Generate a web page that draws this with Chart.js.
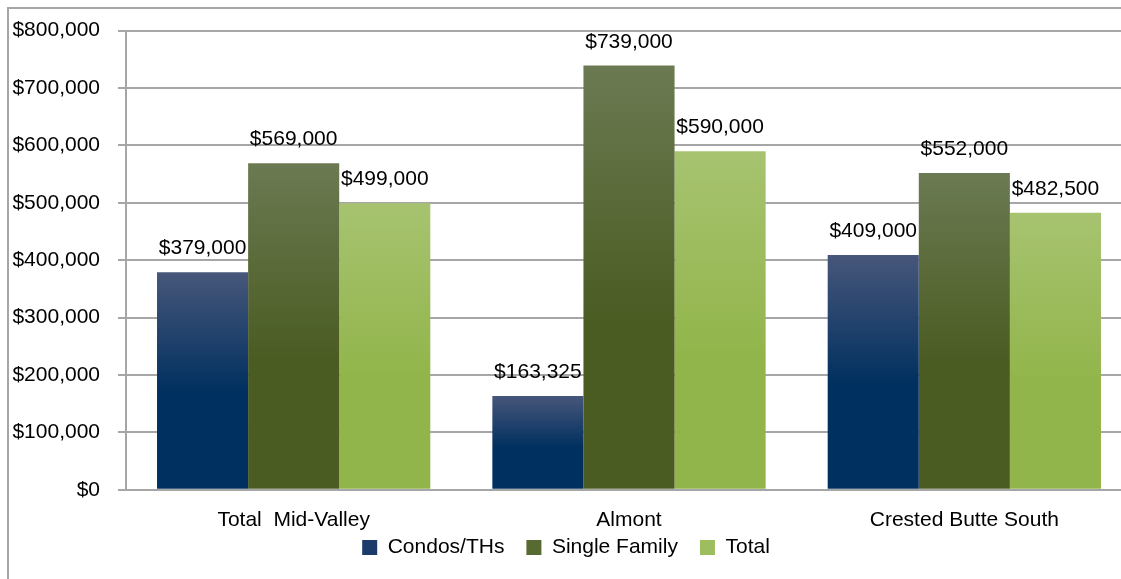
<!DOCTYPE html>
<html>
<head>
<meta charset="utf-8">
<script src="https://cdn.jsdelivr.net/npm/chart.js@4/dist/chart.umd.min.js"></script>
<style>
  html, body { margin: 0; padding: 0; background: #fff; overflow: hidden; }
  #frame {
    position: absolute; left: 7px; top: 7px;
    width: 1200px; height: 700px;
    border-left: 2px solid #a6a6a6; border-top: 2px solid #a6a6a6;
  }
  #wrap { position: absolute; left: 0; top: 0; width: 1132px; height: 579px; }
</style>
</head>
<body>
<div id="frame"></div>
<div id="wrap"><canvas id="medianChart"></canvas></div>
<script>
// median sale prices
const categories = ['Total  Mid-Valley', 'Almont', 'Crested Butte South'];
const condos = [379000, 163325, 409000];
const singleFamily = [569000, 739000, 552000];
const total = [499000, 590000, 482500];
const seriesNames = ['Condos/THs', 'Single Family', 'Total'];

const FONT = "'Liberation Sans', Arial, sans-serif";
const FSIZE = 21;

const money = v => '$' + Number(v).toLocaleString('en-US');

// each bar gets a vertical gradient, lighter at the top
function barGradient(top, bottom, stop)
{
    return (ctx) => {
        const chart = ctx.chart;
        const yScale = chart.scales.y;
        if (!chart.chartArea || !yScale || !ctx.parsed) return bottom;
        const y0 = yScale.getPixelForValue(ctx.parsed.y);
        const y1 = yScale.getPixelForValue(0);
        if (!isFinite(y0) || !isFinite(y1) || y1 - y0 < 1) return bottom;
        const g = chart.ctx.createLinearGradient(0, y0, 0, y1);
        g.addColorStop(0, top);
        g.addColorStop(stop, bottom);
        g.addColorStop(1, bottom);
        return g;
    };
}

// value labels drawn above every bar
const valueLabels = {
    id: 'valueLabels',
    afterDatasetsDraw(chart) {
        const c = chart.ctx;
        c.save();
        c.font = FSIZE + 'px ' + FONT;
        c.fillStyle = '#000';
        c.textAlign = 'center';
        c.textBaseline = 'alphabetic';
        chart.data.datasets.forEach((ds, i) => {
            chart.getDatasetMeta(i).data.forEach((bar, j) => {
                c.fillText(money(ds.data[j]), bar.x, bar.y - 18);
            });
        });
        c.restore();
    }
};

// pull the legend up closer to the category labels
const LEGEND_SHIFT = 28;
const legendNudge = {
    id: 'legendNudge',
    afterLayout(chart) {
        if (chart.legend) {
            chart.legend.top -= LEGEND_SHIFT;
            chart.legend.bottom -= LEGEND_SHIFT;
        }
    }
};

const ctx = document.getElementById('medianChart').getContext('2d');
const medianChart = new Chart(ctx, {
    type: 'bar',
    data: {
        labels: categories,
        datasets: [
            {
                label: seriesNames[0],
                data: condos,
                backgroundColor: barGradient('#47567a', '#00305f', 0.55),
                legendColor: '#1c3a6a'
            },
            {
                label: seriesNames[1],
                data: singleFamily,
                backgroundColor: barGradient('#6b7a52', '#4a5c22', 0.6),
                legendColor: '#566a32'
            },
            {
                label: seriesNames[2],
                data: total,
                backgroundColor: barGradient('#a7c370', '#92b54b', 0.6),
                legendColor: '#9dbd5e'
            }
        ]
    },
    options: {
        responsive: true,
        maintainAspectRatio: false,
        animation: false,
        layout: { padding: { top: 26, left: 0, right: 0, bottom: -17 } },
        datasets: {
            bar: { categoryPercentage: 0.815, barPercentage: 1.0, borderWidth: 0 }
        },
        scales: {
            x: {
                grid: { display: false },
                border: { display: true, color: '#a6a6a6', width: 2 },
                ticks: { color: '#000', font: { family: FONT, size: FSIZE }, padding: 10 }
            },
            y: {
                min: 0,
                max: 800000,
                ticks: {
                    stepSize: 100000,
                    color: '#000',
                    font: { family: FONT, size: FSIZE },
                    padding: 18,
                    callback: v => money(v)
                },
                grid: { color: '#a6a6a6', lineWidth: 2, tickLength: 8, drawTicks: true },
                border: { display: true, color: '#a6a6a6', width: 2 },
                afterFit(scale) { scale.width = 126; }
            }
        },
        plugins: {
            legend: {
                position: 'bottom',
                labels: {
                    color: '#000',
                    font: { family: FONT, size: FSIZE },
                    boxWidth: 15,
                    boxHeight: 15,
                    padding: 22,
                    generateLabels(chart) {
                        return chart.data.datasets.map((ds, i) => ({
                            text: ds.label,
                            fillStyle: ds.legendColor,
                            strokeStyle: ds.legendColor,
                            lineWidth: 0,
                            hidden: false,
                            datasetIndex: i
                        }));
                    }
                }
            },
            tooltip: { enabled: false }
        }
    },
    plugins: [valueLabels, legendNudge]
});
</script>
</body>
</html>
